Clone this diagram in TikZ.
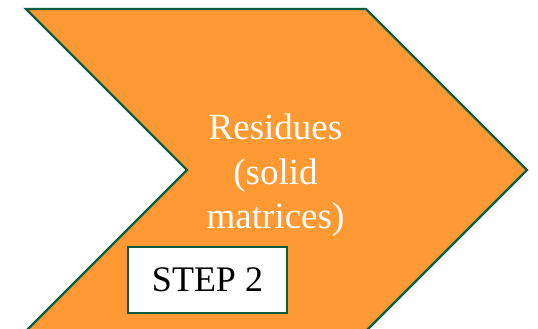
\documentclass[tikz,border=0pt]{standalone}
\usepackage{fontspec}
\setmainfont{Liberation Serif}
\definecolor{chevfill}{HTML}{FF9933}
\definecolor{chevline}{HTML}{0B5E3F}
\begin{document}
\begin{tikzpicture}[x=1pt,y=-1pt,
  chevron/.style={fill=chevfill,draw=chevline,line width=2.4pt,line join=miter},
  steplabel/.style={fill=white,draw=chevline,line width=2pt,inner sep=0pt,
    minimum width=159pt,minimum height=66pt,font=\fontsize{36}{40}\selectfont,text=black},
  bodytext/.style={anchor=base,inner sep=0pt,text=white,font=\fontsize{37}{44}\selectfont}]
\useasboundingbox (0,0) rectangle (538,329);
\clip (0,0) rectangle (538,329);
\draw[chevron] (26,9) -- (366,9) -- (527,170) -- (366,331) -- (26,331) -- (187,170) -- cycle;
\node[bodytext] (l1) at (275.5,139) {Residues};
\node[bodytext] (l2) at (275.5,184) {(solid};
\node[bodytext] (l3) at (275.5,228) {matrices)};
\node[steplabel] (step) at (207.5,280) {STEP 2};
\end{tikzpicture}
\end{document}
